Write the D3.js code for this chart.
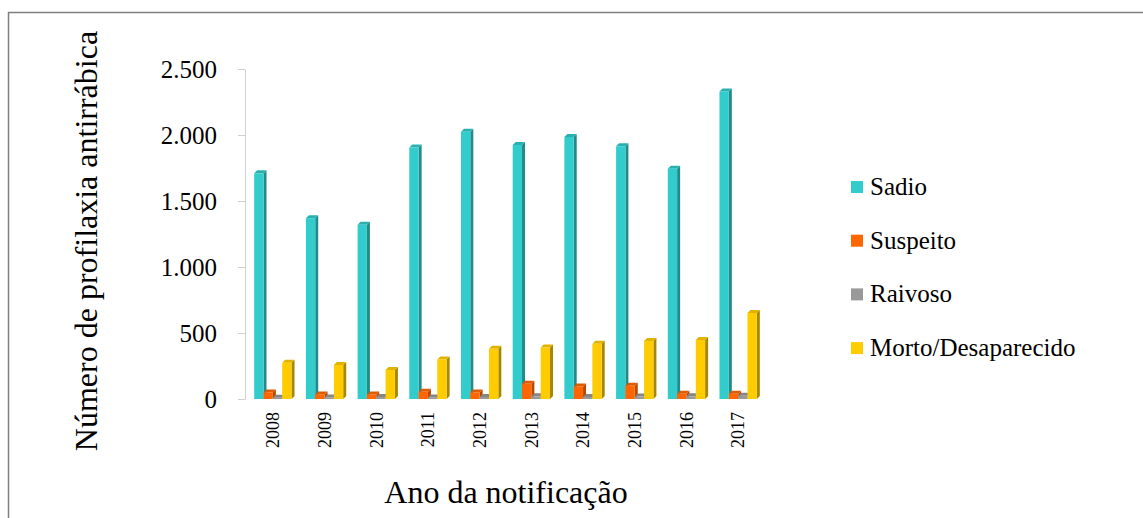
<!DOCTYPE html>
<html>
<head>
<meta charset="utf-8">
<script src="https://cdn.jsdelivr.net/npm/d3@7"></script>
<style>
  body { margin: 0; background: #fff; }
</style>
</head>
<body>
<div class="chart"></div>
<script>
var svgWidth = 1143;
var svgHeight = 518;
var serif = "'Liberation Serif', 'Times New Roman', Times, serif";

// data
var years = ["2008", "2009", "2010", "2011", "2012", "2013", "2014", "2015", "2016", "2017"];
var seriesNames = ["Sadio", "Suspeito", "Raivoso", "Morto/Desaparecido"];
var sadio = [1710, 1370, 1320, 1905, 2025, 1925, 1985, 1915, 1745, 2330];
var suspeito = [50, 35, 35, 55, 50, 115, 95, 100, 40, 40];
var raivoso = [10, 12, 15, 12, 15, 20, 15, 18, 20, 25];
var morto = [275, 258, 220, 300, 380, 390, 418, 440, 447, 652];
var yTicks = [0, 500, 1000, 1500, 2000, 2500];

var seriesValues = [sadio, suspeito, raivoso, morto];
var colors = ["#33CCCC", "#FF6600", "#999999", "#FFCC00"];
var sideColors = ["#238a8a", "#b84a00", "#6e6e6e", "#a88600"];
var topColors = ["#2bb0b0", "#e05a00", "#858585", "#e0b300"];

var svg = d3.select(".chart")
  .append("svg")
  .attr("width", svgWidth)
  .attr("height", svgHeight)
  .attr("font-family", serif);

// outer frame
svg.append("rect")
  .attr("x", 8.5)
  .attr("y", 12.5)
  .attr("width", 1150)
  .attr("height", 530)
  .attr("fill", "none")
  .attr("stroke", "#7f7f7f")
  .attr("stroke-width", 1.5);

var x0 = d3.scaleBand()
  .domain(years)
  .range([247, 764]);

var x1 = d3.scaleBand()
  .domain(seriesNames)
  .range([0, x0.bandwidth()])
  .paddingOuter(0.77);

var y = d3.scaleLinear()
  .domain([0, 2500])
  .range([399, 69]);

var ptBR = d3.formatLocale({ decimal: ",", thousands: ".", grouping: [3], currency: ["R$", ""] });

// y axis
var yAxis = svg.append("g")
  .attr("transform", "translate(245,0)")
  .call(d3.axisLeft(y).tickValues(yTicks).tickFormat(ptBR.format(",d")).tickSize(7).tickSizeOuter(0).tickPadding(21))
  .attr("font-family", serif)
  .attr("font-size", 25);
yAxis.select(".domain").attr("stroke", "#d0d0d0");
yAxis.selectAll(".tick line").attr("stroke", "#d0d0d0");
yAxis.selectAll(".tick text")
  .style("font-family", serif)
  .attr("fill", "#000");

// x axis (year labels only)
var xAxis = svg.append("g")
  .attr("transform", "translate(0,399)")
  .call(d3.axisBottom(x0).tickSize(0))
  .attr("font-family", serif)
  .attr("font-size", 18);
xAxis.select(".domain").remove();
xAxis.selectAll(".tick text")
  .attr("transform", "rotate(-90)")
  .attr("x", -13)
  .attr("y", 0)
  .attr("dy", "0.35em")
  .attr("text-anchor", "end")
  .style("font-family", serif)
  .attr("fill", "#000");

// 3D bars
var depth = 3;
var barsGroup = svg.append("g");
years.forEach(function(year, i) {
  seriesNames.forEach(function(name, s) {
    var v = seriesValues[s][i];
    var bx = x0(year) + x1(name);
    var w = x1.bandwidth();
    var yt = y(v);
    var yb = y(0);
    var g = barsGroup.append("g");
    g.append("polygon")
      .attr("points", [[bx + w, yt], [bx + w + depth, yt - depth], [bx + w + depth, yb - depth], [bx + w, yb]].join(" "))
      .attr("fill", sideColors[s]);
    g.append("polygon")
      .attr("points", [[bx, yt], [bx + depth, yt - depth], [bx + w + depth, yt - depth], [bx + w, yt]].join(" "))
      .attr("fill", topColors[s]);
    g.append("rect")
      .attr("x", bx)
      .attr("y", yt)
      .attr("width", w)
      .attr("height", yb - yt)
      .attr("fill", colors[s]);
  });
});

// axis titles
svg.append("text")
  .attr("transform", "rotate(-90)")
  .attr("x", -241)
  .attr("y", 97)
  .attr("text-anchor", "middle")
  .style("font-family", serif)
  .style("font-size", "32px")
  .text("Número de profilaxia antirrábica");

svg.append("text")
  .attr("x", 506)
  .attr("y", 503)
  .attr("text-anchor", "middle")
  .style("font-family", serif)
  .style("font-size", "32px")
  .text("Ano da notificação");

// legend
var legend = svg.append("g")
  .selectAll("g")
  .data(seriesNames)
  .enter()
  .append("g")
  .attr("transform", (d, i) => `translate(851, ${187 + i * 53.7})`);

legend.append("rect")
  .attr("x", 0)
  .attr("y", -6)
  .attr("width", 12)
  .attr("height", 12)
  .attr("fill", (d, i) => colors[i]);

legend.append("text")
  .attr("x", 19)
  .attr("y", 8)
  .style("font-family", serif)
  .style("font-size", "25px")
  .text(d => d);
</script>
</body>
</html>
